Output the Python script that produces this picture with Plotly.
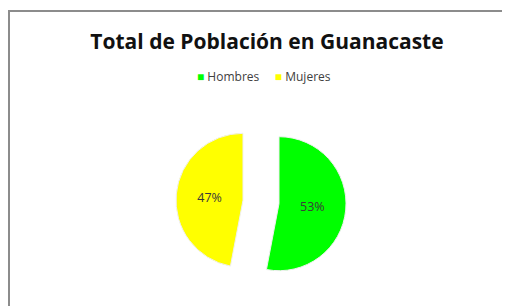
import plotly.graph_objects as go

labels = ["Hombres", "Mujeres"]
values = [53, 47]
colors = ["#00FF00", "#FFFF00"]
pulls = [0.27, 0.27]

W, H = 510, 306
OFF = 8  # page body margin offset
cx, cy, r = 261 - OFF, 202 - OFF, 67
half = r * (1 + max(pulls))

fig = go.Figure(go.Pie(
    labels=labels, values=values, sort=False, direction="clockwise", rotation=0,
    pull=pulls, showlegend=False,
    marker=dict(colors=colors, line=dict(color="#f0f0f0", width=1)),
    textinfo="percent", textposition="inside", insidetextorientation="horizontal",
    textfont=dict(family="Open Sans", size=12.5, color="#3a3a3a"),
    domain=dict(x=[(cx - half) / W, (cx + half) / W], y=[1 - (cy + half) / H, 1 - (cy - half) / H]),
    hoverinfo="label+percent",
))

legend_text = "&nbsp;&nbsp;&nbsp;&nbsp;&nbsp;".join(
    f"<span style='color:{c}'>■</span> {l}" for l, c in zip(labels, colors)
)

fig.update_layout(
    width=W, height=H,
    margin=dict(l=0, r=0, t=0, b=0),
    paper_bgcolor="white", plot_bgcolor="white",
    title=dict(text="<b>Total de Población en Guanacaste</b>", x=(267 - OFF) / W, xanchor="center",
               y=1 - (42 - OFF) / H, yanchor="middle",
               font=dict(family="Open Sans", size=21, color="#111111")),
    annotations=[dict(text=legend_text, xref="paper", yref="paper",
                      x=(264 - OFF) / W, y=1 - (76 - OFF) / H, xanchor="center", yanchor="middle",
                      showarrow=False, font=dict(family="Open Sans", size=12, color="#404040"))],
    shapes=[dict(type="rect", xref="paper", yref="paper",
                 x0=1 / W, x1=(508 - OFF) / W, y0=-0.1, y1=1 - 3 / H,
                 line=dict(color="#8c8c8c", width=2), fillcolor="rgba(0,0,0,0)", layer="below")],
)

fig.write_html("out.html")
